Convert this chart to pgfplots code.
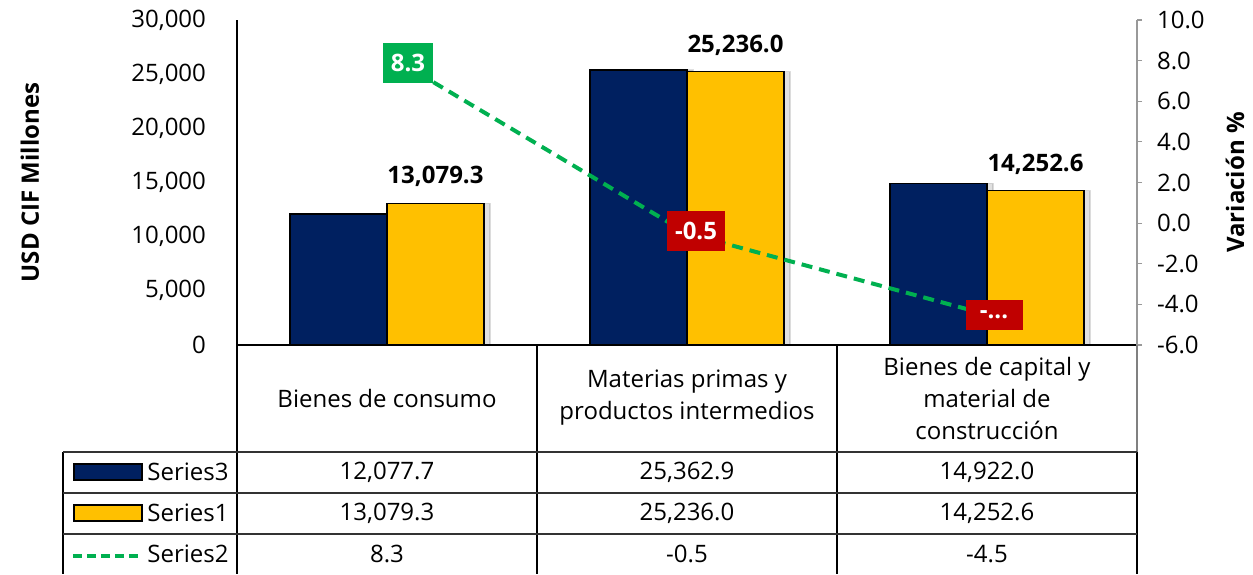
\documentclass[border=0pt]{standalone}
\usepackage{fontspec}
\setmainfont{Open Sans}
\usepackage{pgfplots}
\pgfplotsset{compat=1.18}
\usetikzlibrary{shadows}
\definecolor{navy}{RGB}{0,32,96}
\definecolor{gold}{RGB}{255,192,0}
\definecolor{xgreen}{RGB}{0,176,80}
\definecolor{xred}{RGB}{192,0,0}
\newcommand{\fs}{\fontsize{12}{16}\selectfont}

\begin{document}
\begin{tikzpicture}
\begin{scope}[x=0.5pt,y=-0.5pt,shift={(-118.5pt,172.5pt)}]
\useasboundingbox (0,0) rectangle (1253,574);
\end{scope}

\begin{axis}[
  at={(0,0)}, anchor=south west, scale only axis,
  width=450pt, height=162.5pt,
  xmin=-0.5, xmax=2.5, ymin=0, ymax=30000,
  axis x line*=bottom, axis y line*=left,
  axis line style={black, line width=1pt, -},
  xtick=\empty, ytick={0,5000,...,30000},
  major tick length=0pt,
  scaled y ticks=false,
  /pgf/number format/assume math mode=true,
  /pgf/number format/1000 sep={,},
  yticklabel style={font=\fs, xshift=-12pt},
  every axis y label/.style={at={(axis description cs:-0.23,0.5)}, rotate=90, anchor=center, font=\fs\bfseries},
  ylabel={USD CIF Millones},
  clip=false,
]
\addplot[ybar, bar width=48.5pt, bar shift=-24.25pt, fill=navy, draw=black, line width=0.75pt,
  drop shadow={shadow xshift=3pt, shadow yshift=0pt, fill=black, opacity=0.12}]
  coordinates {(0,12077.7) (1,25362.9) (2,14922.0)};
\addplot[ybar, bar width=48.5pt, bar shift=24.25pt, fill=gold, draw=black, line width=0.75pt,
  drop shadow={shadow xshift=3pt, shadow yshift=0pt, fill=black, opacity=0.12},
  nodes near coords,
  nodes near coords style={font=\fs\bfseries, text=black, yshift=4.5pt, xshift=24.25pt,
    /pgf/number format/.cd, fixed, fixed zerofill, precision=1, 1000 sep={,}, assume math mode=true}]
  coordinates {(0,13079.3) (1,25236.0) (2,14252.6)};
\end{axis}

\begin{axis}[
  at={(0,0)}, anchor=south west, scale only axis,
  width=450pt, height=162.5pt,
  xmin=-0.5, xmax=2.5, ymin=-6, ymax=10,
  axis x line=none, axis y line*=right,
  y axis line style={black!40, line width=0.6pt, -},
  ytick={-6,-4,...,10},
  major tick length=2.5pt, tick align=outside,
  ytick style={black!40, line width=0.6pt},
  scaled y ticks=false,
  /pgf/number format/assume math mode=true,
  yticklabel style={font=\fs, xshift=4pt, /pgf/number format/.cd, fixed, fixed zerofill, precision=1},
  every axis y label/.style={at={(axis description cs:1.109,0.5)}, rotate=90, anchor=center, font=\fs\bfseries},
  ylabel={Variación \%},
  clip=false,
]
\addplot[xgreen, line width=2pt, dash pattern=on 5.5pt off 3.5pt]
  coordinates {(0,8.3) (1,-0.5) (2,-4.5)};
\addplot[draw=none, nodes near coords, point meta=explicit symbolic,
  nodes near coords style={anchor=center, fill=xgreen, text=white, font=\fs\bfseries,
    inner sep=0pt, minimum width=25pt, minimum height=20pt, xshift=10.5pt, yshift=-4.25pt}]
  coordinates {(0,8.3)[8.3]};
\addplot[draw=none, nodes near coords, point meta=explicit symbolic,
  nodes near coords style={anchor=center, fill=xred, text=white, font=\fs\bfseries,
    inner sep=0pt, minimum width=29pt, minimum height=20pt, xshift=4.5pt, yshift=1pt}]
  coordinates {(1,-0.5)[-0.5]};
\addplot[draw=none, nodes near coords, point meta=explicit symbolic,
  nodes near coords style={anchor=center, fill=xred, text=white, font=\fs\bfseries,
    inner sep=0pt, minimum width=28.5pt, minimum height=15pt, xshift=3.5pt, yshift=0pt}]
  coordinates {(2,-4.5)[-...]};
\end{axis}

\begin{scope}[x=0.5pt,y=-0.5pt,shift={(-118.5pt,172.5pt)}]
  % table grid
  \draw[black, line width=0.6pt] (237,345) -- (237,574);
  \draw[black, line width=0.6pt] (537,345) -- (537,574);
  \draw[black, line width=0.6pt] (837,345) -- (837,574);
  \draw[black!50, line width=0.6pt] (1137,345) -- (1137,452);
  \draw[black, line width=0.6pt] (1137,452) -- (1137,574);
  \draw[black, line width=0.6pt] (63,452) -- (63,574);
  \draw[black!80, line width=0.6pt] (63,452) -- (1137,452);
  \draw[black!80, line width=0.6pt] (63,493) -- (1137,493);
  \draw[black!80, line width=0.6pt] (63,534) -- (1137,534);
  % header
  \node[font=\fs, align=center] at (387,398) {Bienes de consumo};
  \node[font=\fs, align=center] at (687,398) {Materias primas y\\productos intermedios};
  \node[font=\fs, align=center] at (987,398) {Bienes de capital y\\material de\\construcción};
  % legend keys
  \draw[fill=navy, draw=black, line width=0.6pt] (74,464) rectangle (142,480);
  \draw[fill=gold, draw=black, line width=0.6pt] (74,505) rectangle (142,521);
  \draw[xgreen, line width=1.75pt, dash pattern=on 4.5pt off 2.5pt] (73,556) -- (142,556);
  \node[font=\fs, anchor=west, inner sep=0pt] at (147,472) {Series3};
  \node[font=\fs, anchor=west, inner sep=0pt] at (147,513) {Series1};
  \node[font=\fs, anchor=west, inner sep=0pt] at (147,554) {Series2};
  % values
  \node[font=\fs] at (387,472) {12,077.7};
  \node[font=\fs] at (687,472) {25,362.9};
  \node[font=\fs] at (987,472) {14,922.0};
  \node[font=\fs] at (387,513) {13,079.3};
  \node[font=\fs] at (687,513) {25,236.0};
  \node[font=\fs] at (987,513) {14,252.6};
  \node[font=\fs] at (387,554) {8.3};
  \node[font=\fs] at (687,554) {-0.5};
  \node[font=\fs] at (987,554) {-4.5};
\end{scope}
\end{tikzpicture}
\end{document}
